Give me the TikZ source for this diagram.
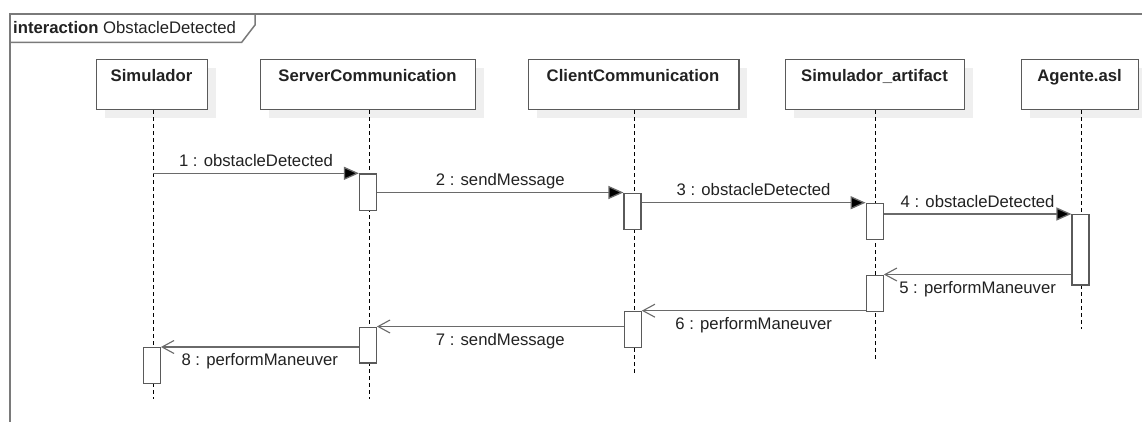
\documentclass[tikz,border=0pt]{standalone}
\usepackage{fontspec}
\setmainfont{Liberation Sans}
\usetikzlibrary{arrows.meta}
\definecolor{framegray}{HTML}{7A7A7A}
\definecolor{boxgray}{HTML}{5A5A5A}
\definecolor{msggray}{HTML}{6A6A6A}
\definecolor{shadowgray}{HTML}{EFEFEF}
\definecolor{txt}{HTML}{222222}
\tikzset{
  lifebox/.style={draw=boxgray, line width=1.3pt, fill=white, inner sep=0pt, anchor=north west},
  boxshadow/.style={fill=shadowgray, draw=none},
  boxtitle/.style={font=\fontsize{16.7}{18}\selectfont\bfseries, text=txt, anchor=base, inner sep=0pt},
  lifeline/.style={draw=black, line width=0.9pt, dash pattern=on 4pt off 3pt},
  actbar/.style={draw=boxgray, line width=1.2pt, fill=white, inner sep=0pt, minimum width=17pt, anchor=north},
  syncmsg/.style={draw=msggray, line width=1.3pt, -{Triangle[length=15pt,width=13pt,fill=black]}},
  retmsg/.style={draw=msggray, line width=1.3pt, -{Straight Barb[length=12pt,width=13pt,line width=1.1pt]}},
  msglabel/.style={font=\fontsize{16.7}{18}\selectfont, text=txt, anchor=base, inner sep=0pt},
}
\begin{document}
\begin{tikzpicture}[x=1pt,y=-1pt]
\useasboundingbox (0,0) rectangle (1142,421);
\fill[white] (0,0) rectangle (1142,421);

% frame
\draw[framegray, line width=1.8pt] (1150,14) -- (10,14) -- (10,430);
\draw[framegray, line width=1.5pt] (10,42.3) -- (241.7,42.3) -- (255,25) -- (255,14);
\node[anchor=base west, inner sep=0pt, text=txt, font=\fontsize{16.7}{18}\selectfont] (framelabel) at (13,33.5) {\textbf{interaction} ObstacleDetected};

% shadows
\foreach \l/\r in {96/207, 260/475, 527.7/738.3, 785/964, 1021/1138}{
  \fill[boxshadow] (\l+9,59+9) rectangle (\r+9,109+9);
}

% lifeline boxes
\node[lifebox, minimum width=111pt, minimum height=50pt] (sim) at (96,59) {};
\node[lifebox, minimum width=215pt, minimum height=50pt] (srv) at (260,59) {};
\node[lifebox, minimum width=210.6pt, minimum height=50pt] (cli) at (527.7,59) {};
\node[lifebox, minimum width=179pt, minimum height=50pt] (art) at (785,59) {};
\node[lifebox, minimum width=117pt, minimum height=50pt] (age) at (1021,59) {};

\node[boxtitle] (simT) at (151.5,81) {Simulador};
\node[boxtitle] (srvT) at (367.5,81) {ServerCommunication};
\node[boxtitle] (cliT) at (633,81) {ClientCommunication};
\node[boxtitle] (artT) at (874.5,81) {Simulador\_artifact};
\node[boxtitle] (ageT) at (1079.5,81) {Agente.asl};

% lifeline ends
\coordinate (simE) at (153,399);
\coordinate (srvE) at (369,399);
\coordinate (cliE) at (634,376);
\coordinate (artE) at (875.5,361);
\coordinate (ageE) at (1081.5,329);

\draw[lifeline] (sim.south -| simE) -- (simE);
\draw[lifeline] (srv.south -| srvE) -- (srvE);
\draw[lifeline] (cli.south -| cliE) -- (cliE);
\draw[lifeline] (art.south -| artE) -- (artE);
\draw[lifeline] (age.south -| ageE) -- (ageE);

% activation bars
\node[actbar, minimum height=36.7pt] (s1) at (368,173.3) {};
\node[actbar, minimum height=36.5pt] (c1) at (632.5,192.5) {};
\node[actbar, minimum height=36.3pt] (a1) at (874.7,202.7) {};
\node[actbar, minimum height=70.3pt] (g1) at (1080.5,214) {};
\node[actbar, minimum height=36.2pt] (a2) at (874.7,274.5) {};
\node[actbar, minimum height=36.3pt] (c2) at (632.7,310.7) {};
\node[actbar, minimum height=35.8pt] (s2) at (367.8,326.5) {};
\node[actbar, minimum height=36pt] (m2) at (151.8,347) {};

% messages
\draw[syncmsg] (simE |- s1.north west) -- (s1.north west)
  node[msglabel, midway, yshift=7pt] (l1) {1 : obstacleDetected};
\draw[syncmsg] (s1.east |- c1.north west) -- (c1.north west)
  node[msglabel, midway, yshift=7pt] (l2) {2 : sendMessage};
\draw[syncmsg] (c1.east |- a1.north west) -- (a1.north west)
  node[msglabel, midway, yshift=7pt] (l3) {3 : obstacleDetected};
\draw[syncmsg] (a1.east |- g1.north west) -- (g1.north west)
  node[msglabel, midway, yshift=7pt] (l4) {4 : obstacleDetected};
\draw[retmsg] (g1.west |- a2.north east) -- (a2.north east)
  node[msglabel, midway, yshift=-18.5pt] (l5) {5 : performManeuver};
\draw[retmsg] (a2.west |- c2.north east) -- (c2.north east)
  node[msglabel, midway, yshift=-18.5pt] (l6) {6 : performManeuver};
\draw[retmsg] (c2.west |- s2.north east) -- (s2.north east)
  node[msglabel, midway, yshift=-18.5pt] (l7) {7 : sendMessage};
\draw[retmsg] (s2.west |- m2.north east) -- (m2.north east)
  node[msglabel, midway, yshift=-18.5pt] (l8) {8 : performManeuver};
\end{tikzpicture}
\end{document}
